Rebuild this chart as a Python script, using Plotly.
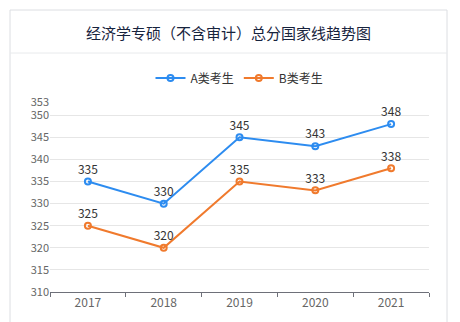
import plotly.graph_objects as go

years = ["2017", "2018", "2019", "2020", "2021"]
series_a = [335, 330, 345, 343, 348]
series_b = [325, 320, 335, 333, 338]
y_ticks = [310, 315, 320, 325, 330, 335, 340, 345, 350, 353]
title_text = "经济学专硕（不含审计）总分国家线趋势图"
name_a = "A类考生"
name_b = "B类考生"

blue = "#2d8cf0"
orange = "#f07a2d"
font_family = "Noto Sans CJK SC, Noto Sans, sans-serif"

fig = go.Figure()
for name, vals, col in [(name_a, series_a, blue), (name_b, series_b, orange)]:
    fig.add_trace(go.Scatter(
        x=years, y=vals, name=name, mode="lines+markers+text",
        line=dict(color=col, width=2),
        marker=dict(symbol="circle-open", size=6, color=col, line=dict(width=2, color=col)),
        text=[str(v) for v in vals], textposition="top center",
        textfont=dict(size=12, color="#333333", family=font_family),
        cliponaxis=False,
    ))

fig.update_layout(
    width=460, height=322,
    margin=dict(l=50, r=31, t=102, b=30, autoexpand=False),
    paper_bgcolor="white", plot_bgcolor="white",
    font=dict(family=font_family, size=11, color="#666666"),
    showlegend=True,
    legend=dict(orientation="h", x=0.5, xanchor="center",
                y=(292 - 78) / 190, yref="paper", yanchor="middle",
                font=dict(size=12, color="#333333"),
                itemwidth=30, bgcolor="rgba(0,0,0,0)"),
    xaxis=dict(type="category", range=[-0.5, 4.5], showgrid=False,
               showline=True, linecolor="#6e7079", linewidth=1,
               ticks="outside", ticklen=4, tickcolor="#6e7079",
               tickson="boundaries", tickfont=dict(size=12, color="#666666"),
               zeroline=False, fixedrange=True),
    yaxis=dict(range=[310, 353], tickvals=y_ticks, ticktext=[str(v) for v in y_ticks],
               showgrid=True, gridcolor="#e6e6e6", gridwidth=1,
               showline=False, zeroline=False, ticks="",
               tickfont=dict(size=11, color="#666666"), fixedrange=True),
)

# card border and header separator
fig.add_shape(type="rect", xref="paper", yref="paper",
              x0=(10 - 50) / 379, x1=(447 - 50) / 379,
              y0=(292 - 330) / 190, y1=(292 - 10) / 190,
              line=dict(color="#dcdee2", width=1), fillcolor="rgba(0,0,0,0)", layer="below")
fig.add_shape(type="line", xref="paper", yref="paper",
              x0=(10 - 50) / 379, x1=(447 - 50) / 379,
              y0=(292 - 53) / 190, y1=(292 - 53) / 190,
              line=dict(color="#e8eaec", width=1))

fig.add_annotation(text=title_text, xref="paper", yref="paper",
                   x=(228 - 50) / 379, y=(292 - 32) / 190, xanchor="center", yanchor="middle",
                   showarrow=False, font=dict(size=15, color="#17233d", family=font_family))

fig.write_html("out.html")
